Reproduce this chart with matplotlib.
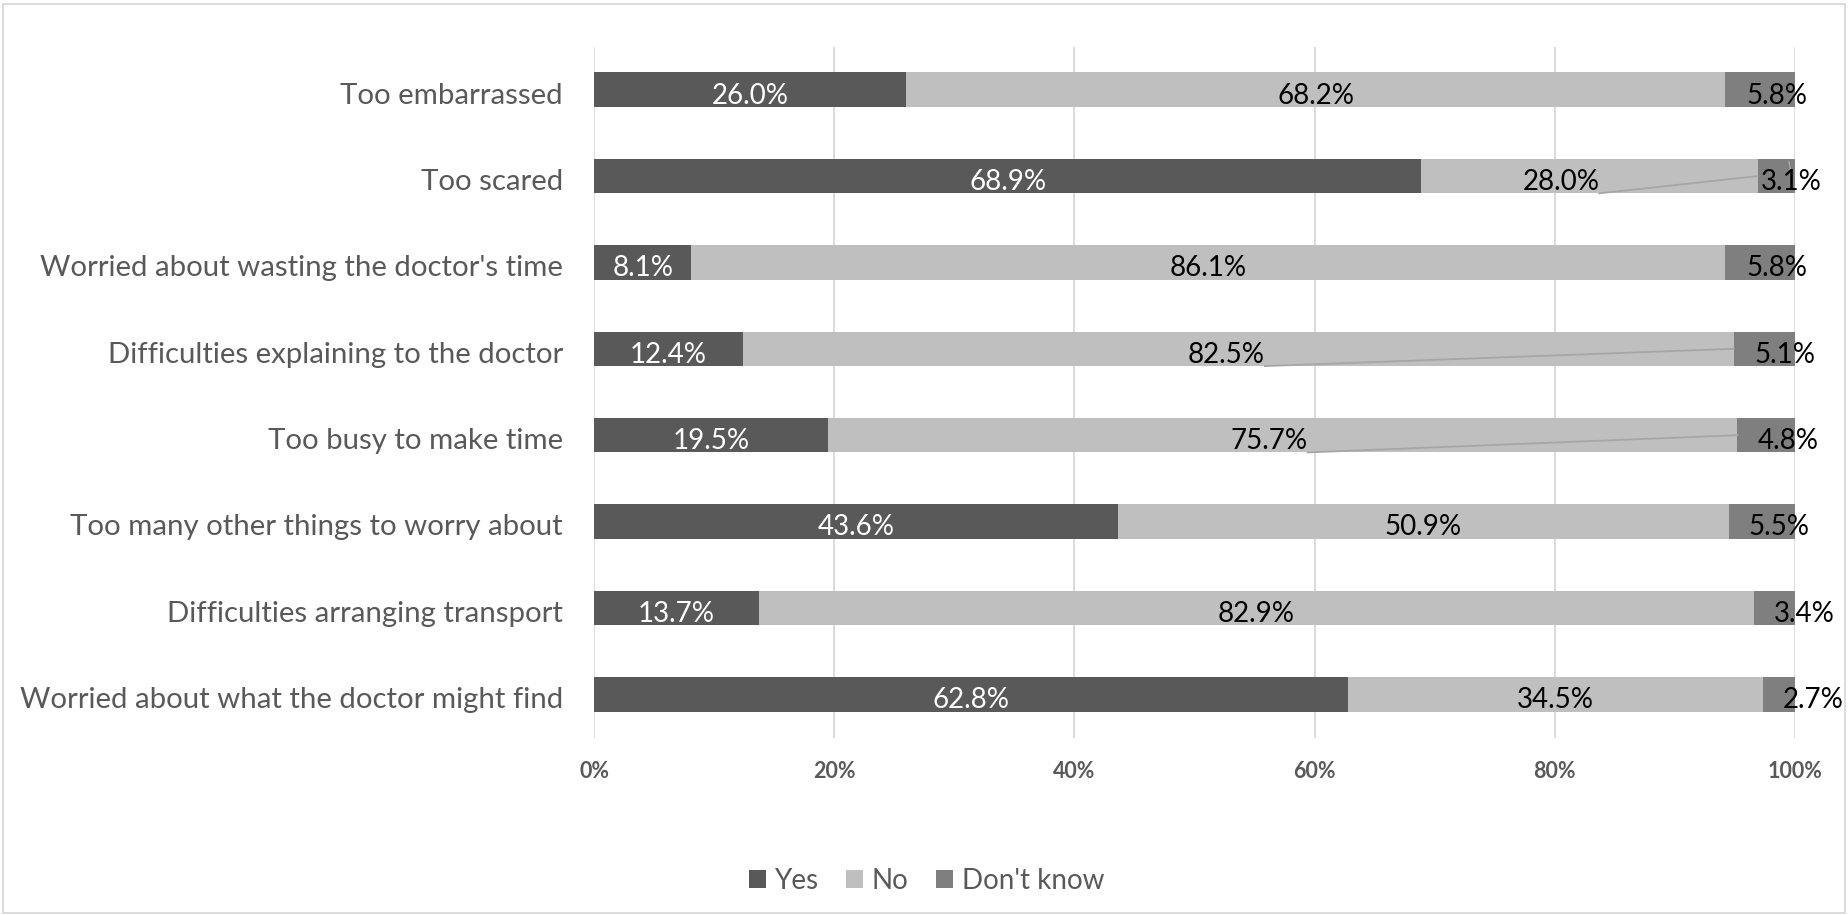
import matplotlib
matplotlib.use("Agg")
import matplotlib.pyplot as plt
from matplotlib.patches import Rectangle

# data, top row first
categories = [
    "Too embarrassed",
    "Too scared",
    "Worried about wasting the doctor's time",
    "Difficulties explaining to the doctor",
    "Too busy to make time",
    "Too many other things to worry about",
    "Difficulties arranging transport",
    "Worried about what the doctor might find",
]
yes = [26.0, 68.9, 8.1, 12.4, 19.5, 43.6, 13.7, 62.8]
no = [68.2, 28.0, 86.1, 82.5, 75.7, 50.9, 82.9, 34.5]
dont_know = [5.8, 3.1, 5.8, 5.1, 4.8, 5.5, 3.4, 2.7]
series_names = ["Yes", "No", "Don't know"]
xticks = [0, 20, 40, 60, 80, 100]

# label nudges (layout only, in axis units) to mimic the Excel label placement
no_nudge = [0, -2.4, 0, -1.0, -1.15, 0, 0, 0]
dk_nudge = [1.4, 1.25, 1.4, 1.75, 1.8, 1.45, 2.5, 2.85]
leader_rows = [1, 3, 4]

C_YES, C_NO, C_DK = "#595959", "#bfbfbf", "#7f7f7f"
GRID = "#d9d9d9"
TXT = "#595959"
FONT = "Lato"

plt.rcParams["font.family"] = [FONT, "DejaVu Sans"]

fig = plt.figure(figsize=(18.49, 9.15), dpi=100)
ax = fig.add_axes([594 / 1849, 1 - 737.5 / 915, 1201 / 1849, 691 / 915])

y = list(range(len(categories)))
left_no = [a for a in yes]
left_dk = [a + b for a, b in zip(yes, no)]

ax.barh(y, yes, height=0.4, color=C_YES, label=series_names[0], zorder=2)
ax.barh(y, no, left=left_no, height=0.4, color=C_NO, label=series_names[1], zorder=2)
ax.barh(y, dont_know, left=left_dk, height=0.4, color=C_DK, label=series_names[2], zorder=2)

ax.set_xlim(0, 100)
ax.set_ylim(len(categories) - 0.5, -0.5)
ax.set_xticks(xticks)
ax.set_xticklabels([f"{t}%" for t in xticks], fontsize=15.5, fontweight="bold", color=TXT)
ax.tick_params(axis="x", length=0, pad=17)
ax.set_yticks([])
for s in ax.spines.values():
    s.set_visible(False)
for t in xticks:
    ax.axvline(t, color=GRID, lw=1.3, zorder=1)

fs = 20
base = 0.16  # baseline offset below the bar centre
for i, cat in enumerate(categories):
    ax.text(-0.026, i + base, cat, transform=ax.get_yaxis_transform(),
            ha="right", va="baseline", fontsize=21.2, color=TXT)
    ax.text(yes[i] / 2, i + base, f"{yes[i]:.1f}%", ha="center", va="baseline",
            fontsize=fs, color="white", zorder=4)
    ax.text(left_no[i] + no[i] / 2 + no_nudge[i], i + base, f"{no[i]:.1f}%",
            ha="center", va="baseline", fontsize=fs, color="black", zorder=4)
    ax.text(left_dk[i] + dont_know[i] / 2 + dk_nudge[i], i + base, f"{dont_know[i]:.1f}%",
            ha="center", va="baseline", fontsize=fs, color="black", zorder=4)

# leader lines from shifted "No" labels to the end of the "No" segment
fig.canvas.draw()
renderer = fig.canvas.get_renderer()
for i in leader_rows:
    lbl = f"{no[i]:.1f}%"
    txt = [t for t in ax.texts if t.get_text() == lbl][0]
    bb = txt.get_window_extent(renderer).transformed(ax.transData.inverted())
    ax.plot([bb.x1, left_dk[i]], [i + 0.2, i], color="#a6a6a6", lw=1.3, zorder=3)
ax.plot([left_dk[1] + 2.6, left_dk[1] + 2.8], [1 - 0.17, 1], color="#a6a6a6", lw=1.0, zorder=3)

leg = fig.legend(loc="center", bbox_to_anchor=(0.501, 0.037), ncol=3, frameon=False,
                 fontsize=20, handlelength=0.62, handleheight=0.62, handletextpad=0.3,
                 columnspacing=1.0)
for t in leg.get_texts():
    t.set_color(TXT)

fig.patches.append(Rectangle((3.5 / 1849, 2.5 / 915), 1841.5 / 1849, 909 / 915,
                             transform=fig.transFigure, fill=False, edgecolor=GRID, lw=1.3))

fig.savefig("out.png", dpi=100)
